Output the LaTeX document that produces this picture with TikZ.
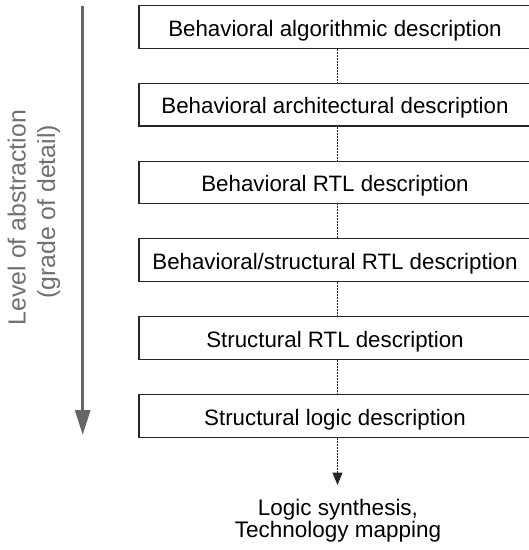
\documentclass[tikz,border=0pt]{standalone}
\usepackage{fontspec}
\setmainfont{Liberation Sans}
\usetikzlibrary{arrows.meta}
\definecolor{axisgray}{HTML}{666666}
\definecolor{labelgray}{HTML}{707070}
\tikzset{
  levelbox/.style={draw=black!85, line width=1.1pt, minimum width=392pt, minimum height=42.5pt,
    inner sep=0pt, text height=18pt, text depth=0pt, font=\fontsize{22.3}{26}\selectfont, text=black},
  flowline/.style={draw=black!85, line width=1pt, dash pattern=on 1pt off 0.5pt},
  axisarrow/.style={draw=axisgray, line width=3pt, -{Triangle[length=25pt,width=15pt]}, fill=axisgray},
  sidelabel/.style={text=labelgray, font=\fontsize{24.8}{29}\selectfont, rotate=90, anchor=base, inner sep=0pt},
  endlabel/.style={text=black, font=\fontsize{22.5}{26}\selectfont, anchor=base, inner sep=0pt}
}
\begin{document}
\begin{tikzpicture}[x=1pt,y=-1pt]
\useasboundingbox (0,0) rectangle (529,550);
% boxes
\node[levelbox] (b1) at (335,27)    {Behavioral algorithmic description};
\node[levelbox] (b2) at (335,104.7) {Behavioral architectural description};
\node[levelbox] (b3) at (335,182.6) {Behavioral RTL description};
\node[levelbox] (b4) at (335,260)   {Behavioral/structural RTL description};
\node[levelbox] (b5) at (335,338)   {Structural RTL description};
\node[levelbox] (b6) at (335,416)   {Structural logic description};
% connectors
\draw[flowline] ([xshift=2.5pt]b1.south) -- ([xshift=2.5pt]b2.north);
\draw[flowline] ([xshift=2.5pt]b2.south) -- ([xshift=2.5pt]b3.north);
\draw[flowline] ([xshift=2.5pt]b3.south) -- ([xshift=2.5pt]b4.north);
\draw[flowline] ([xshift=2.5pt]b4.south) -- ([xshift=2.5pt]b5.north);
\draw[flowline] ([xshift=2.5pt]b5.south) -- ([xshift=2.5pt]b6.north);
\coordinate (synend) at (337.5,485);
\draw[flowline, -{Triangle[length=12.5pt,width=10pt]}] ([xshift=2.5pt]b6.south) -- (synend);
% bottom label
\node[endlabel] (syn1) at (338,515.7) {Logic synthesis,};
\node[endlabel] (syn2) at (338,537.3) {Technology mapping};
% left axis
\coordinate (axtop) at (82.7,6);
\coordinate (axbot) at (82.7,435);
\draw[axisarrow] (axtop) -- (axbot);
\node[sidelabel] (lvl1) at (25.7,217.5) {Level of abstraction};
\node[sidelabel] (lvl2) at (55,212) {(grade of detail)};
\end{tikzpicture}
\end{document}
